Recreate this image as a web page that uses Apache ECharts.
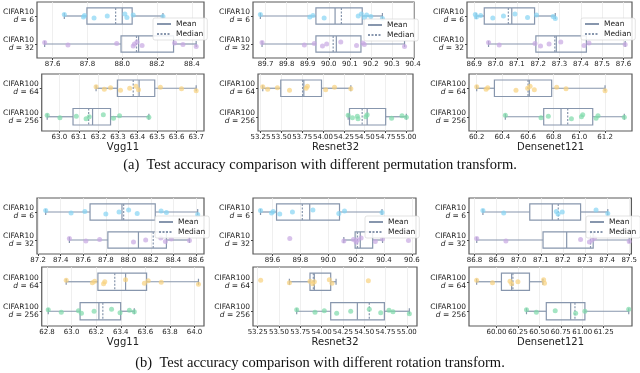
<!DOCTYPE html>
<html>
<head>
<meta charset="utf-8">
<script src="https://cdn.jsdelivr.net/npm/echarts@6/dist/echarts.min.js"></script>
<style>
html, body { margin: 0; padding: 0; background: #fff; }
#chart { width: 640px; height: 373px; }
</style>
</head>
<body>
<div id="chart"></div>
<script>
// models (columns) and the two categories per row
const models = ['Vgg11', 'Resnet32', 'Densenet121'];
const c10Labels = ['CIFAR10|6', 'CIFAR10|32'];
const c100Labels = ['CIFAR100|64', 'CIFAR100|256'];

// box stats per model, per category: [min, q1, median, q3, max, mean]
const permC10Box = [
  [[87.667, 87.797, 87.962, 88.057, 88.234, 88.000], [87.554, 87.993, 88.082, 88.295, 88.425, 88.094]],
  [[89.675, 89.939, 90.060, 90.159, 90.255, 90.030], [89.683, 89.939, 90.021, 90.153, 90.360, 90.036]],
  [[86.909, 86.947, 87.060, 87.183, 87.280, 87.076], [86.967, 87.189, 87.278, 87.426, 87.608, 87.285]]
];
const permC100Box = [
  [[63.188, 63.297, 63.378, 63.488, 63.700, 63.408], [62.938, 63.070, 63.150, 63.262, 63.458, 63.170]],
  [[53.277, 53.493, 53.755, 53.982, 54.334, 53.770], [54.302, 54.318, 54.470, 54.752, 55.000, 54.530]],
  [[60.200, 60.338, 60.600, 60.784, 61.200, 60.610], [60.423, 60.722, 60.909, 61.104, 61.350, 60.857]]
];
const rotC10Box = [
  [[87.267, 87.660, 87.958, 88.238, 88.614, 87.943], [87.477, 87.818, 88.220, 88.337, 88.541, 88.089]],
  [[89.514, 89.629, 89.814, 90.081, 90.386, 89.867], [90.112, 90.193, 90.210, 90.319, 90.390, 90.230]],
  [[86.838, 87.050, 87.179, 87.280, 87.403, 87.152], [86.810, 87.110, 87.325, 87.337, 87.500, 87.217]]
];
const rotC100Box = [
  [[62.956, 63.214, 63.351, 63.610, 64.032, 63.439], [62.810, 63.069, 63.254, 63.399, 63.510, 63.222]],
  [[53.622, 53.864, 53.903, 54.107, 54.170, 53.915], [53.708, 54.107, 54.560, 54.737, 55.030, 54.420]],
  [[59.769, 60.058, 60.192, 60.385, 60.542, 60.177], [60.350, 60.581, 60.915, 61.031, 61.542, 60.865]]
];

// individual runs (strip points)
const permC10Pts = [
  [[87.667, 87.777, 87.783, 87.838, 87.914, 88.015, 88.027, 88.063, 88.234],
   [87.554, 87.688, 87.968, 88.063, 88.070, 88.085, 88.114, 88.301, 88.349, 88.425]],
  [[89.675, 89.910, 89.925, 89.978, 90.140, 90.155, 90.170, 90.180, 90.200, 90.255],
   [89.683, 89.884, 89.931, 89.970, 89.990, 90.057, 90.132, 90.162, 90.169, 90.360]],
  [[86.905, 86.910, 86.930, 86.987, 87.037, 87.091, 87.150, 87.192, 87.270, 87.280],
   [86.967, 87.017, 87.185, 87.211, 87.251, 87.306, 87.415, 87.438, 87.608]]
];
const permC100Pts = [
  [[63.188, 63.230, 63.262, 63.313, 63.360, 63.392, 63.405, 63.517, 63.625, 63.700],
   [62.938, 63.003, 63.087, 63.137, 63.153, 63.225, 63.277, 63.308, 63.458]],
  [[53.277, 53.336, 53.453, 53.598, 53.798, 53.813, 54.032, 54.138, 54.334],
   [54.302, 54.353, 54.412, 54.420, 54.514, 54.530, 54.823, 54.948, 55.000]],
  [[60.200, 60.273, 60.286, 60.506, 60.597, 60.616, 60.649, 60.823, 60.896, 61.200],
   [60.423, 60.701, 60.758, 60.938, 61.016, 61.026, 61.130, 61.145, 61.350]]
];
const rotC10Pts = [
  [[87.267, 87.492, 87.614, 87.800, 87.917, 88.002, 88.078, 88.290, 88.337, 88.614],
   [87.477, 87.623, 87.745, 88.045, 88.153, 88.287, 88.328, 88.380, 88.541]],
  [[89.514, 89.593, 89.605, 89.652, 89.743, 89.890, 90.076, 90.117, 90.386],
   [89.724, 90.112, 90.181, 90.200, 90.210, 90.236, 90.338, 90.390, 90.576]],
  [[86.838, 86.932, 87.170, 87.178, 87.197, 87.350, 87.403],
   [86.810, 86.942, 87.280, 87.320, 87.332, 87.343, 87.500]]
];
const rotC100Pts = [
  [[62.956, 63.169, 63.188, 63.260, 63.270, 63.439, 63.592, 63.623, 63.729, 64.032],
   [62.810, 62.916, 63.056, 63.080, 63.183, 63.325, 63.394, 63.470, 63.510]],
  [[53.285, 53.622, 53.864, 53.895, 53.915, 54.091, 54.122, 54.549],
   [53.708, 53.923, 54.032, 54.177, 54.342, 54.560, 54.694, 54.791, 54.838, 55.030]],
  [[59.769, 59.954, 60.158, 60.177, 60.250, 60.550, 60.560],
   [60.350, 60.465, 60.685, 60.923, 61.031, 61.542]]
];

// x tick labels per panel
const permC10Ticks = [[87.6, 87.8, 88.0, 88.2, 88.4], [89.7, 89.8, 89.9, 90.0, 90.1, 90.2, 90.3, 90.4], [86.9, 87.0, 87.1, 87.2, 87.3, 87.4, 87.5, 87.6]];
const permC100Ticks = [[63.0, 63.1, 63.2, 63.3, 63.4, 63.5, 63.6, 63.7], [53.25, 53.5, 53.75, 54.0, 54.25, 54.5, 54.75, 55.0], [60.2, 60.4, 60.6, 60.8, 61.0, 61.2]];
const rotC10Ticks = [[87.2, 87.4, 87.6, 87.8, 88.0, 88.2, 88.4, 88.6], [89.6, 89.8, 90.0, 90.2, 90.4, 90.6], [86.8, 86.9, 87.0, 87.1, 87.2, 87.3, 87.4, 87.5]];
const rotC100Ticks = [[62.8, 63.0, 63.2, 63.4, 63.6, 63.8, 64.0], [53.25, 53.5, 53.75, 54.0, 54.25, 54.5, 54.75, 55.0], [60.0, 60.25, 60.5, 60.75, 61.0, 61.25]];
const permC10Dec = [1, 1, 1], permC100Dec = [1, 2, 1], rotC10Dec = [1, 1, 1], rotC100Dec = [1, 2, 2];

// axis limits
const permC10Range = [[87.51, 88.47], [89.64, 90.405], [86.866, 87.64]];
const permC100Range = [[62.91, 63.74], [53.22, 55.08], [60.14, 61.41]];
const rotC10Range = [[87.19, 88.67], [89.46, 90.63], [86.775, 87.51]];
const rotC100Range = [[62.757, 64.077], [53.195, 55.12], [59.68, 61.58]];

const captions = [
  '(a)  Test accuracy comparison with different permutation transform.',
  '(b)  Test accuracy comparison with different rotation transform.'
];

// layout
const rowTop = [2, 74, 198, 267];
const rowH = [56, 57, 56, 59];
const colLR = [
  [[37, 204], [253, 414], [467, 632]],
  [[39, 204], [258, 413], [469, 632]],
  [[37, 204], [253, 416], [469, 633]],
  [[38, 204], [253, 417], [469, 632]]
];
const legendPos = [[[153, 18], [364, 19], [581, 18]], null, [[155, 216], [365, 216], [586, 216]], null];

const boxColor = '#8796ad';
const c10Colors = ['#86d4f3', '#c8a8e2'];
const c100Colors = ['#f8d27e', '#7edaa9'];
const jitter = [-1.5, 1, -0.5, 2, 0, -2, 1.5, -1, 0.5, 2.5];

const rows = [
  { labels: c10Labels, box: permC10Box, pts: permC10Pts, ticks: permC10Ticks, dec: permC10Dec, range: permC10Range, colors: c10Colors },
  { labels: c100Labels, box: permC100Box, pts: permC100Pts, ticks: permC100Ticks, dec: permC100Dec, range: permC100Range, colors: c100Colors },
  { labels: c10Labels, box: rotC10Box, pts: rotC10Pts, ticks: rotC10Ticks, dec: rotC10Dec, range: rotC10Range, colors: c10Colors },
  { labels: c100Labels, box: rotC100Box, pts: rotC100Pts, ticks: rotC100Ticks, dec: rotC100Dec, range: rotC100Range, colors: c100Colors }
];

function renderBox(params, api) {
  const cat = api.value(0);
  const s = [1, 2, 3, 4, 5, 6].map(k => api.value(k)); // min q1 med q3 max mean
  const x = s.map(v => api.coord([v, cat])[0]);
  const y = api.coord([s[0], cat])[1];
  const h = api.size([0, 1])[1] * 0.58;
  const cap = 3;
  const line = (x1, y1, x2, y2, dash) => ({
    type: 'line', shape: { x1, y1, x2, y2 },
    style: { stroke: boxColor, lineWidth: 1.2, lineDash: dash || null }
  });
  return {
    type: 'group',
    children: [
      line(x[0], y, x[1], y),
      line(x[3], y, x[4], y),
      line(x[0], y - cap, x[0], y + cap),
      line(x[4], y - cap, x[4], y + cap),
      { type: 'rect', shape: { x: x[1], y: y - h / 2, width: x[3] - x[1], height: h },
        style: { stroke: boxColor, lineWidth: 1.2, fill: 'none' } },
      line(x[5], y - h / 2, x[5], y + h / 2),
      line(x[2], y - h / 2, x[2], y + h / 2, [2, 1.5])
    ]
  };
}

const grid = [], xAxis = [], yAxis = [], series = [], legend = [];

rows.forEach((row, r) => {
  models.forEach((model, c) => {
    const i = grid.length;
    const [L, R] = colLR[r][c];
    grid.push({ left: L, top: rowTop[r], width: R - L, height: rowH[r], show: true,
      borderColor: '#5a5a5a', borderWidth: 1.2, backgroundColor: 'transparent' });
    const ticks = row.ticks[c];
    const dec = row.dec[c];
    xAxis.push({
      type: 'value', gridIndex: i, min: row.range[c][0], max: row.range[c][1],
      axisLine: { show: false },
      axisTick: { show: true, length: 2, customValues: ticks, lineStyle: { color: '#444' } },
      axisLabel: { customValues: ticks, formatter: v => v.toFixed(dec), fontSize: 7, color: '#222', margin: 3 },
      splitLine: { show: true, lineStyle: { color: '#ebebeb', width: 0.8 } },
      name: (r === 1 || r === 3) ? model : '',
      nameLocation: 'middle', nameGap: 11,
      nameTextStyle: { fontSize: 10, color: '#222', verticalAlign: 'top' }
    });
    yAxis.push({
      type: 'category', gridIndex: i, data: row.labels, inverse: true,
      axisLine: { show: false },
      axisTick: { show: true, length: 2, alignWithLabel: true, lineStyle: { color: '#444' } },
      splitLine: { show: false },
      axisLabel: {
        margin: 3, color: '#222',
        formatter: v => { const [n, d] = v.split('|'); return '{n|' + n + '}\n{i|d}{n| = ' + d + '}'; },
        rich: {
          n: { fontSize: 7.5, lineHeight: 8, color: '#222' },
          i: { fontSize: 7.5, lineHeight: 8, fontStyle: 'italic', color: '#222' }
        }
      }
    });
    series.push({
      type: 'custom', xAxisIndex: i, yAxisIndex: i, renderItem: renderBox, silent: true, z: 2,
      encode: { x: [1, 2, 3, 4, 5, 6], y: 0 },
      data: row.box[c].map((b, k) => [k].concat(b))
    });
    series.push({
      type: 'scatter', xAxisIndex: i, yAxisIndex: i, symbolSize: 5, silent: true, z: 3,
      itemStyle: { opacity: 0.7 },
      data: row.pts[c].flatMap((arr, k) => arr.map((v, j) => ({
        value: [v, k], symbolOffset: [0, jitter[j % jitter.length]], itemStyle: { color: row.colors[k] }
      })))
    });
    if (legendPos[r]) {
      legend.push({
        left: legendPos[r][c][0], top: legendPos[r][c][1],
        orient: 'vertical', itemWidth: 14, itemHeight: 6, itemGap: 2,
        padding: [2, 4, 2, 3], backgroundColor: 'rgba(255,255,255,0.85)',
        borderColor: '#d0d0d0', borderWidth: 0.6, borderRadius: 2,
        textStyle: { fontSize: 7.5, color: '#222' },
        itemStyle: { opacity: 0 }, selectedMode: false,
        data: ['Mean', 'Median']
      });
    }
  });
});

// dummy series that give the legend its two line styles
series.push({ name: 'Mean', type: 'line', xAxisIndex: 0, yAxisIndex: 0, data: [], symbol: 'none',
  lineStyle: { color: boxColor, width: 1.2 }, itemStyle: { color: boxColor } });
series.push({ name: 'Median', type: 'line', xAxisIndex: 0, yAxisIndex: 0, data: [], symbol: 'none',
  lineStyle: { color: boxColor, width: 1.2, type: [2, 1.5] }, itemStyle: { color: boxColor } });

const chart = echarts.init(document.getElementById('chart'));
chart.setOption({
  animation: false,
  backgroundColor: '#fff',
  textStyle: { fontFamily: 'DejaVu Sans' },
  title: captions.map((t, k) => ({
    text: t, left: 'center', top: k === 0 ? 158 : 356, padding: 0,
    textStyle: { fontFamily: 'Liberation Serif', fontSize: 14.5, fontWeight: 'normal', color: '#111' }
  })),
  legend,
  grid,
  xAxis,
  yAxis,
  series
});
</script>
</body>
</html>
